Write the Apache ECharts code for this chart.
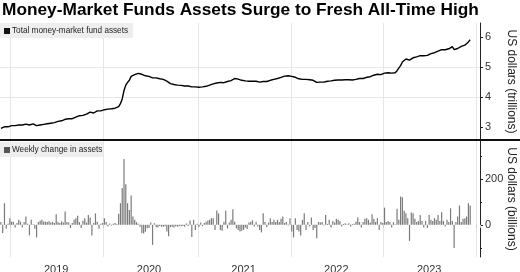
<!DOCTYPE html>
<html><head><meta charset="utf-8">
<script src="https://cdn.jsdelivr.net/npm/echarts@6/dist/echarts.min.js"></script>
<style>html,body{margin:0;padding:0;background:#fff}#c{width:520px;height:272px}</style>
</head><body><div id="c"></div>
<script>
const chartTitle = 'Money-Market Funds Assets Surge to Fresh All-Time High';
const totalName = 'Total money-market fund assets';
const changeName = 'Weekly change in assets';
const firstWeek = '2018-11-21';
const weekCount = 269;
// Total money-market fund assets, US$ trillions, weekly
const totalAssets = [
2.96,2.93,3.01,3.00,3.01,3.04,3.05,3.06,3.05,3.06,
3.07,3.08,3.07,3.08,3.10,3.10,3.07,3.10,3.11,3.09,
3.05,3.06,3.07,3.08,3.09,3.10,3.11,3.12,3.13,3.14,
3.15,3.18,3.19,3.20,3.21,3.22,3.26,3.27,3.28,3.27,
3.28,3.30,3.33,3.37,3.38,3.37,3.39,3.42,3.43,3.47,
3.50,3.46,3.47,3.52,3.54,3.52,3.54,3.55,3.58,3.60,
3.60,3.61,3.61,3.62,3.63,3.63,3.68,3.78,3.94,4.22,
4.40,4.49,4.56,4.69,4.73,4.75,4.78,4.79,4.78,4.76,
4.73,4.71,4.70,4.69,4.70,4.64,4.65,4.64,4.63,4.61,
4.60,4.59,4.57,4.53,4.47,4.45,4.43,4.42,4.41,4.40,
4.40,4.39,4.38,4.37,4.38,4.37,4.38,4.34,4.36,4.34,
4.34,4.33,4.34,4.34,4.35,4.36,4.38,4.40,4.42,4.44,
4.42,4.47,4.51,4.49,4.47,4.48,4.53,4.52,4.53,4.55,
4.60,4.62,4.61,4.60,4.58,4.56,4.55,4.54,4.53,4.53,
4.53,4.53,4.52,4.53,4.52,4.50,4.47,4.52,4.53,4.52,
4.53,4.56,4.57,4.59,4.60,4.62,4.63,4.66,4.69,4.70,
4.71,4.71,4.72,4.69,4.64,4.66,4.64,4.61,4.57,4.59,
4.61,4.59,4.59,4.58,4.59,4.56,4.54,4.49,4.49,4.50,
4.51,4.50,4.53,4.53,4.55,4.54,4.55,4.56,4.57,4.57,
4.58,4.57,4.57,4.58,4.58,4.58,4.57,4.57,4.58,4.59,
4.61,4.62,4.61,4.62,4.64,4.66,4.68,4.68,4.72,4.73,
4.74,4.76,4.74,4.75,4.76,4.80,4.80,4.81,4.81,4.80,
4.81,4.81,4.88,4.92,5.05,5.17,5.23,5.27,5.29,5.23,
5.27,5.31,5.33,5.34,5.35,5.38,5.39,5.38,5.40,5.39,
5.43,5.45,5.46,5.48,5.50,5.53,5.54,5.58,5.59,5.58,
5.60,5.61,5.67,5.68,5.58,5.59,5.62,5.68,5.69,5.71,
5.73,5.76,5.84,5.91
];
// Weekly change in assets, US$ billions
const weeklyChange = [
12,-36,94,-17,5,29,14,12,-12,8,
22,14,-12,12,36,5,-46,22,3,-17,
-55,12,18,22,15,14,12,16,10,12,
8,46,12,8,15,10,58,12,10,-14,
8,22,29,40,12,-14,18,29,10,43,
32,-46,8,50,14,-17,5,8,29,12,
-7,6,-3,5,8,4,48,94,160,287,
177,94,65,128,36,22,12,5,-8,-36,
-38,-30,-15,-14,10,-87,7,-10,-12,-5,
-8,-8,-6,-29,-50,-10,-8,-12,-6,-8,
-5,-6,-5,-8,6,-5,19,-53,22,-22,
5,-8,10,-6,8,14,19,22,29,29,
-22,62,50,-22,-26,14,61,-16,10,22,
68,14,-15,-22,-29,-26,-22,-12,-18,10,
14,20,-7,14,-7,-22,-33,50,12,-10,
10,29,12,22,12,22,12,26,36,8,
12,-3,29,-29,-55,29,-22,-29,-46,22,
50,-22,12,-7,32,-22,-14,-58,12,10,
12,-3,43,4,22,-12,17,10,26,22,
17,-7,4,7,3,7,-7,3,5,14,
32,12,-12,12,26,29,22,10,46,26,
12,29,-22,12,8,75,12,17,12,-12,
12,3,70,22,123,120,61,50,29,-70,
54,50,26,12,17,43,17,-12,17,-14,
43,22,17,29,22,43,17,55,17,-7,
22,12,72,17,-101,12,36,84,12,26,
29,36,94,84
];
const totalTicks = [3, 4, 5, 6];
const changeTicks = [0, 200];
const totalRange = [2.57, 6.47];
const changeRange = [-140, 365];

const weeks = [];
(function(){
  const d0 = Date.parse(firstWeek + 'T00:00:00Z');
  for (let i = 0; i < weekCount; i++) weeks.push(new Date(d0 + i * 7 * 86400000).toISOString().slice(0, 10));
})();
function isYearStart(i){ const w = weeks[i]; return !!w && w.slice(5,7) === '01' && +w.slice(8,10) <= 7; }
function isMidYear(i){ const w = weeks[i+1]; return !!w && w.slice(5,7) === '07' && +w.slice(8,10) <= 7; }

const FONT = '"Liberation Sans", Arial, sans-serif';
const GRID = '#e6e6e6';
const chart = echarts.init(document.getElementById('c'), null, {renderer: 'canvas', width: 520, height: 272});
const xBase = {
  type: 'category', data: weeks, boundaryGap: true,
  axisLine: {show: false},
  splitLine: {show: true, interval: (i) => isYearStart(i), lineStyle: {color: GRID, width: 1}}
};
chart.setOption({
  animation: false,
  backgroundColor: '#fff',
  title: {text: chartTitle, left: 1, top: 0, padding: [2, 0, 0, 1],
    textStyle: {fontFamily: FONT, fontSize: 17.3, fontWeight: 'bold', color: '#000'}},
  grid: [
    {left: 0, right: 40, top: 23, height: 117, containLabel: false, outerBoundsMode: 'none'},
    {left: 0, right: 40, top: 141, bottom: 15, containLabel: false, outerBoundsMode: 'none'}
  ],
  xAxis: [
    Object.assign({}, xBase, {gridIndex: 0, axisTick: {show: false}, axisLabel: {show: false}}),
    Object.assign({}, xBase, {gridIndex: 1,
      axisTick: {show: true, interval: (i) => isYearStart(i), length: 3, lineStyle: {color: '#cccccc'}},
      axisLabel: {show: true, interval: (i) => isMidYear(i), formatter: (v) => v.slice(0, 4),
        margin: 7, fontSize: 11, color: '#333', fontFamily: FONT}})
  ],
  yAxis: [
    {gridIndex: 0, type: 'value', position: 'right', min: totalRange[0], max: totalRange[1], splitNumber: 4,
      axisLine: {show: true, lineStyle: {color: '#222', width: 1}},
      axisTick: {show: true, length: 3, customValues: totalTicks, lineStyle: {color: '#222'}},
      axisLabel: {show: true, margin: 5, fontSize: 11, color: '#333', fontFamily: FONT, customValues: totalTicks},
      splitLine: {show: true, showMinLine: false, showMaxLine: false, lineStyle: {color: GRID}},
      name: 'US dollars (trillions)', nameLocation: 'middle', nameRotate: -90, nameGap: 25, nameMoveOverlap: false,
      nameTextStyle: {fontSize: 12, color: '#222', fontFamily: FONT}},
    {gridIndex: 1, type: 'value', position: 'right', min: changeRange[0], max: changeRange[1], splitNumber: 3,
      axisLine: {show: true, lineStyle: {color: '#222', width: 1}},
      axisTick: {show: true, length: 3, customValues: changeTicks, lineStyle: {color: '#222'}},
      minorTick: {show: true, splitNumber: 2, length: 2, lineStyle: {color: '#222'}},
      axisLabel: {show: true, margin: 5, fontSize: 11, color: '#333', fontFamily: FONT, customValues: changeTicks},
      splitLine: {show: true, showMinLine: false, showMaxLine: false, lineStyle: {color: GRID}},
      name: 'US dollars (billions)', nameLocation: 'middle', nameRotate: -90, nameGap: 25, nameMoveOverlap: false,
      nameTextStyle: {fontSize: 12, color: '#222', fontFamily: FONT}}
  ],
  series: [
    {name: totalName, type: 'line', xAxisIndex: 0, yAxisIndex: 0, data: totalAssets,
      showSymbol: false, symbol: 'none', lineStyle: {color: '#000', width: 1.4}, itemStyle: {color: '#000'}},
    {name: changeName, type: 'bar', xAxisIndex: 1, yAxisIndex: 1, data: weeklyChange,
      barWidth: 1.2, itemStyle: {color: '#7a7a7a'}}
  ],
  graphic: [
    {type: 'rect', silent: true, z: 100, shape: {x: 0, y: 139, width: 520, height: 2}, style: {fill: '#111'}},
    {type: 'rect', silent: true, z: 100, shape: {x: 0, y: 23, width: 133, height: 15}, style: {fill: '#eeeeee'}},
    {type: 'rect', silent: true, z: 101, shape: {x: 4, y: 28, width: 6, height: 6}, style: {fill: '#111'}},
    {type: 'text', silent: true, z: 101, x: 12, y: 31, style: {text: totalName, font: '8.2px ' + FONT, fill: '#222', verticalAlign: 'middle'}},
    {type: 'rect', silent: true, z: 100, shape: {x: 0, y: 142, width: 103, height: 15}, style: {fill: '#eeeeee'}},
    {type: 'rect', silent: true, z: 101, shape: {x: 4, y: 147, width: 6, height: 6}, style: {fill: '#555'}},
    {type: 'text', silent: true, z: 101, x: 12, y: 150, style: {text: changeName, font: '8.2px ' + FONT, fill: '#222', verticalAlign: 'middle'}}
  ]
});
</script>
</body></html>
